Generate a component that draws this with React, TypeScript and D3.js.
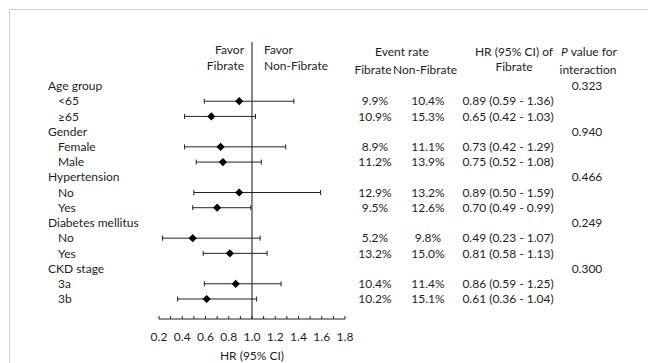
import React from "react";
import * as d3 from "d3";

// forest plot data
const groups = ["Age group", "Gender", "Hypertension", "Diabetes mellitus", "CKD stage"];
const pInteraction = ["0.323", "0.940", "0.466", "0.249", "0.300"];
const subgroups = ["<65", "≥65", "Female", "Male", "No", "Yes", "No", "Yes", "3a", "3b"];
const hr = [0.89, 0.65, 0.73, 0.75, 0.89, 0.7, 0.49, 0.81, 0.86, 0.61];
const hrLow = [0.59, 0.42, 0.42, 0.52, 0.5, 0.49, 0.23, 0.58, 0.59, 0.36];
const hrHigh = [1.36, 1.03, 1.29, 1.08, 1.59, 0.99, 1.07, 1.13, 1.25, 1.04];
const fibrateRate = ["9.9%", "10.9%", "8.9%", "11.2%", "12.9%", "9.5%", "5.2%", "13.2%", "10.4%", "10.2%"];
const nonFibrateRate = ["10.4%", "15.3%", "11.1%", "13.9%", "13.2%", "12.6%", "9.8%", "15.0%", "11.4%", "15.1%"];
const xTicks = [0.2, 0.4, 0.6, 0.8, 1.0, 1.2, 1.4, 1.6, 1.8];

const W = 648;
const H = 363;
const font = "Lato, 'Open Sans', sans-serif";
const fs = 12;
const ink = "#1e1e1e";

export default function App() {
  // build the row list: group header followed by its 2 subgroups
  const rows: { kind: "group" | "sub"; label: string; idx: number }[] = [];
  groups.forEach((g, gi) => {
    rows.push({ kind: "group", label: g, idx: gi });
    rows.push({ kind: "sub", label: subgroups[gi * 2], idx: gi * 2 });
    rows.push({ kind: "sub", label: subgroups[gi * 2 + 1], idx: gi * 2 + 1 });
  });

  const x = d3.scaleLinear().domain([0.2, 1.8]).range([159, 345]);
  const y = d3.scalePoint<number>().domain(d3.range(rows.length)).range([86, 299]);
  const axisY = 319;
  const minorTicks = d3.range(2, 19).map((d) => d / 10);
  // excel-style diamond: a square turned 45deg
  const diamond = d3.symbol().type(d3.symbolSquare).size(34)();

  const colFib = 375;
  const colNon = 428;
  const colHR = 508;
  const colP = 587;

  return (
    <svg
      width={W}
      height={H}
      style={{ position: "absolute", left: 0, top: 0, background: "#fff" }}
      fontFamily={font}
      fontSize={fs}
      fill={ink}
    >
      {/* chart frame (cropped) */}
      <path d={`M9.5,${H} V9.5 H${W}`} fill="none" stroke="#cfcfcf" strokeWidth={1} />

      {/* headers */}
      <g>
        <text x={244} y={50} textAnchor="end" dy="0.35em">Favor</text>
        <text x={244} y={66} textAnchor="end" dy="0.35em">Fibrate</text>
        <text x={264} y={50} dy="0.35em">Favor</text>
        <text x={264} y={66} dy="0.35em">Non-Fibrate</text>

        <text x={402} y={52} textAnchor="middle" dy="0.35em">Event rate</text>
        <text x={373} y={70} textAnchor="middle" dy="0.35em">Fibrate</text>
        <text x={425} y={70} textAnchor="middle" dy="0.35em">Non-Fibrate</text>

        <text x={514} y={52} textAnchor="middle" dy="0.35em">HR (95% CI) of</text>
        <text x={514} y={67} textAnchor="middle" dy="0.35em">Fibrate</text>

        <text x={589} y={52} textAnchor="middle" dy="0.35em">
          <tspan fontStyle="italic">P</tspan>
          <tspan dx={3}>value for</tspan>
        </text>
        <text x={588} y={70} textAnchor="middle" dy="0.35em">interaction</text>
      </g>

      {/* reference line at HR = 1 */}
      <line x1={x(1)} x2={x(1)} y1={42} y2={axisY} stroke="#3a3a3a" strokeWidth={1.2} />

      {/* rows */}
      {rows.map((r, i) => {
        const yy = y(i)!;
        if (r.kind === "group") {
          return (
            <g key={i}>
              <text x={48} y={yy} dy="0.35em">{r.label}</text>
              <text x={colP} y={yy} dy="0.35em" textAnchor="middle">{pInteraction[r.idx]}</text>
            </g>
          );
        }
        const k = r.idx;
        return (
          <g key={i}>
            <text x={58} y={yy} dy="0.35em">{r.label}</text>
            <line x1={x(hrLow[k])} x2={x(hrHigh[k])} y1={yy} y2={yy} stroke="#222" strokeWidth={1} />
            <line x1={x(hrLow[k])} x2={x(hrLow[k])} y1={yy - 2.5} y2={yy + 2.5} stroke="#222" strokeWidth={1} />
            <line x1={x(hrHigh[k])} x2={x(hrHigh[k])} y1={yy - 2.5} y2={yy + 2.5} stroke="#222" strokeWidth={1} />
            <path d={diamond ?? ""} transform={`translate(${x(hr[k])},${yy}) rotate(45)`} fill="#000" />
            <text x={colFib} y={yy} dy="0.35em" textAnchor="middle">{fibrateRate[k]}</text>
            <text x={colNon} y={yy} dy="0.35em" textAnchor="middle">{nonFibrateRate[k]}</text>
            <text x={colHR} y={yy} dy="0.35em" textAnchor="middle">
              {`${hr[k].toFixed(2)} (${hrLow[k].toFixed(2)} - ${hrHigh[k].toFixed(2)})`}
            </text>
          </g>
        );
      })}

      {/* x axis */}
      <line x1={x(0.2)} x2={x(1.8)} y1={axisY} y2={axisY} stroke="#222" strokeWidth={1} />
      {minorTicks.map((t) => (
        <line key={t} x1={x(t)} x2={x(t)} y1={axisY} y2={axisY - 3} stroke="#222" strokeWidth={1} />
      ))}
      {xTicks.map((t) => (
        <text key={t} x={x(t)} y={337} dy="0.35em" textAnchor="middle">{t.toFixed(1)}</text>
      ))}
      <text x={x(1)} y={356} dy="0.35em" textAnchor="middle">HR (95% CI)</text>
    </svg>
  );
}
